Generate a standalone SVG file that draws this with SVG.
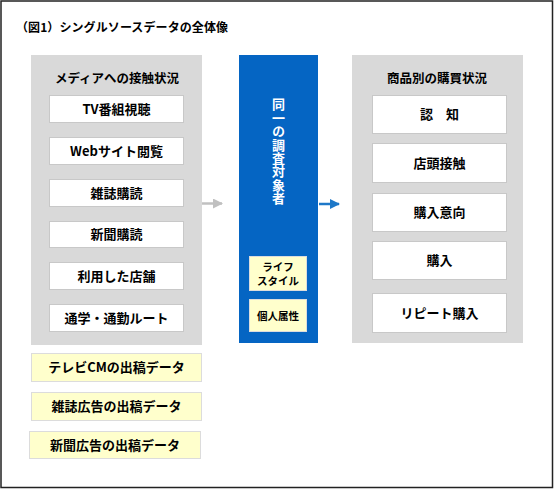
<svg xmlns="http://www.w3.org/2000/svg" width="554" height="489" viewBox="0 0 554 489">
<defs>
<style>
text{font-family:"Noto Sans CJK JP","Noto Sans",sans-serif;font-weight:bold;fill:#000;}
.panel{fill:#D9D9D9;}
.wbox{fill:#FFFFFF;stroke:#C8C8C8;stroke-width:1;}
.ybox{fill:#FFFFCC;stroke:#DCDCDC;stroke-width:1;}
.lbl{font-size:13px;text-anchor:middle;}
.hdr{font-size:12.5px;text-anchor:middle;}
.vt{font-size:13px;fill:#FFFFFF;writing-mode:vertical-rl;letter-spacing:0.4px;}
</style>
<marker id="ag" viewBox="0 0 10 10" refX="9" refY="5" markerWidth="4" markerHeight="4" orient="auto" markerUnits="strokeWidth"><path d="M0,0 L10,5 L0,10 z" fill="#C0C0C0"/></marker>
<marker id="ab" viewBox="0 0 10 10" refX="9" refY="5" markerWidth="4" markerHeight="4" orient="auto" markerUnits="strokeWidth"><path d="M0,0 L10,5 L0,10 z" fill="#1E78C8"/></marker>
</defs>
<rect x="0" y="0" width="554" height="489" fill="#FFFFFF"/>
<rect x="1" y="1" width="551.5" height="486.5" fill="none" stroke="#222" stroke-width="1.5"/>
<text x="16" y="32" font-size="12" textLength="212">（図1）シングルソースデータの全体像</text>

<g id="media-panel">
<rect class="panel" x="31" y="55" width="171" height="290"/>
<text class="hdr" x="117" y="83">メディアへの接触状況</text>
</g>
<g id="tv"><rect class="wbox" x="49.5" y="95.5" width="134" height="27"/><text class="lbl" x="116.5" y="114">TV番組視聴</text></g>
<g id="web"><rect class="wbox" x="49.5" y="137.5" width="134" height="27"/><text class="lbl" x="116.5" y="156">Webサイト閲覧</text></g>
<g id="magazine"><rect class="wbox" x="49.5" y="179.5" width="134" height="27"/><text class="lbl" x="116.5" y="198">雑誌購読</text></g>
<g id="newspaper"><rect class="wbox" x="49.5" y="221.5" width="134" height="26"/><text class="lbl" x="116.5" y="239">新聞購読</text></g>
<g id="store"><rect class="wbox" x="49.5" y="262.5" width="134" height="27"/><text class="lbl" x="116.5" y="281">利用した店舗</text></g>
<g id="route"><rect class="wbox" x="49.5" y="304.5" width="134" height="27"/><text class="lbl" x="116.5" y="323">通学・通勤ルート</text></g>

<g id="tvcm"><rect class="ybox" x="31.5" y="353.5" width="170" height="28"/><text class="lbl" x="116.5" y="372">テレビCMの出稿データ</text></g>
<g id="mag-ad"><rect class="ybox" x="31.5" y="392.5" width="170" height="28"/><text class="lbl" x="116.5" y="411">雑誌広告の出稿データ</text></g>
<g id="news-ad"><rect class="ybox" x="29.5" y="431.5" width="171" height="27"/><text class="lbl" x="115" y="450">新聞広告の出稿データ</text></g>

<g id="subject">
<rect x="239" y="55" width="79" height="288" fill="#0565C3"/>
<text class="vt" x="278.5" y="98">同一の調査対象者</text>
</g>
<g id="lifestyle"><rect class="ybox" x="249.5" y="256.5" width="57" height="34"/><text font-size="10.5" text-anchor="middle"><tspan x="278" y="271">ライフ</tspan><tspan x="278" y="284.5">スタイル</tspan></text></g>
<g id="attr"><rect class="ybox" x="249.5" y="299.5" width="57" height="32"/><text font-size="10.5" text-anchor="middle" x="278" y="319.5">個人属性</text></g>

<g id="purchase-panel">
<rect class="panel" x="352" y="55" width="171" height="288"/>
<text class="hdr" x="437" y="83">商品別の購買状況</text>
</g>
<g id="awareness"><rect class="wbox" x="372.5" y="95.5" width="134" height="38"/><text class="lbl" x="439.5" y="119">認　知</text></g>
<g id="storefront"><rect class="wbox" x="372.5" y="143.5" width="134" height="39"/><text class="lbl" x="439.5" y="168">店頭接触</text></g>
<g id="intent"><rect class="wbox" x="372.5" y="193.5" width="134" height="38"/><text class="lbl" x="439.5" y="217">購入意向</text></g>
<g id="buy"><rect class="wbox" x="372.5" y="241.5" width="134" height="38"/><text class="lbl" x="439.5" y="265">購入</text></g>
<g id="repeat"><rect class="wbox" x="372.5" y="293.5" width="134" height="39"/><text class="lbl" x="439.5" y="318">リピート購入</text></g>

<g id="connectors">
<line x1="202" y1="203.5" x2="222" y2="203.5" stroke="#C0C0C0" stroke-width="2.5" marker-end="url(#ag)"/>
<line x1="319" y1="204" x2="339" y2="204" stroke="#1E78C8" stroke-width="2.5" marker-end="url(#ab)"/>
</g>
</svg>
